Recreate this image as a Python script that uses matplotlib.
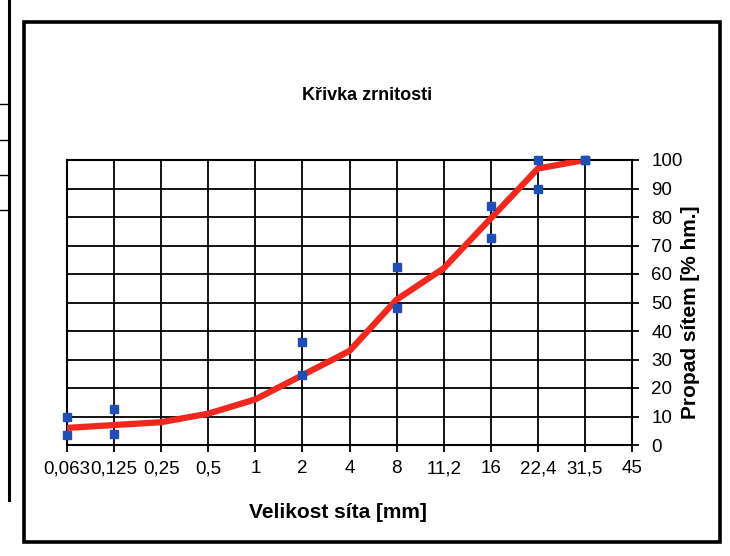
import numpy as np
import matplotlib
matplotlib.use("Agg")
import matplotlib.pyplot as plt
from matplotlib.patches import Rectangle
from matplotlib.lines import Line2D

plt.rcParams['font.family'] = ['Liberation Sans', 'DejaVu Sans']

sieves = ["0,063", "0,125", "0,25", "0,5", "1", "2", "4", "8", "11,2", "16", "22,4", "31,5", "45"]
passing = [6, 7, 8, 11, 16, 24.5, 33, 51, 62, 79.5, 97, 100, np.nan]
lower = [3.5, 4, np.nan, np.nan, np.nan, 24.5, np.nan, 48, np.nan, 72.5, 90, 100, np.nan]
upper = [10, 12.5, np.nan, np.nan, np.nan, 36, np.nan, 62.5, np.nan, 84, 100, 100, np.nan]
yticks = [0, 10, 20, 30, 40, 50, 60, 70, 80, 90, 100]

W, H = 730, 556
fig = plt.figure(figsize=(W / 100, H / 100), dpi=100)

# outer frame and partial table on the left
fig.patches.append(Rectangle((24 / W, 1 - 542 / H), (720 - 24) / W, (542 - 22) / H,
                             transform=fig.transFigure, fill=False, lw=2.6, ec='black'))
fig.lines.append(Line2D([9 / W, 9 / W], [1 - 500 / H, 1.0], transform=fig.transFigure, lw=2.2, color='black'))
for yy in [104, 140, 175, 210]:
    fig.lines.append(Line2D([0, 9 / W], [1 - yy / H, 1 - yy / H], transform=fig.transFigure, lw=1.0, color='black'))

L, R, T, B = 67, 632, 160, 445
ax = fig.add_axes([L / W, 1 - B / H, (R - L) / W, (B - T) / H])

x = np.arange(len(sieves))
ax.plot(x, passing, color='#f0281e', lw=4.5, solid_capstyle='round', solid_joinstyle='round', zorder=3)
ax.plot(x, lower, ls='none', marker='s', ms=6, color='#1f4fb4', zorder=4, clip_on=False)
ax.plot(x, upper, ls='none', marker='s', ms=6, color='#1f4fb4', zorder=4, clip_on=False)

ax.set_xlim(0, len(sieves) - 1)
ax.set_ylim(0, 100)
ax.set_xticks(x)
ax.set_xticklabels(sieves, fontsize=13.5)
ax.yaxis.tick_right()
ax.yaxis.set_label_position('right')
ax.set_yticks(yticks)
ax.set_yticklabels([str(v) for v in yticks], fontsize=13.5)
ax.grid(True, color='black', lw=1.3)
ax.set_axisbelow(True)
for s in ax.spines.values():
    s.set_linewidth(1.5)
ax.tick_params(axis='x', length=5, width=1.3, pad=6)
ax.tick_params(axis='y', length=5, width=1.3, pad=9)

ax.set_xlabel("Velikost síta [mm]", fontsize=15, fontweight='bold')
ax.set_ylabel("Propad sítem [% hm.]", fontsize=15, fontweight='bold')
ax.xaxis.set_label_coords((338 - L) / (R - L), -(513 - B) / (B - T), transform=ax.transAxes)
ax.yaxis.set_label_coords((690 - L) / (R - L), (B - 312) / (B - T), transform=ax.transAxes)
ax.xaxis.label.set_va('center')
ax.yaxis.label.set_va('center')

fig.text(367 / W, 1 - 95 / H, "Křivka zrnitosti", fontsize=13, fontweight='bold',
         ha='center', va='center')

fig.savefig("out.png", dpi=100)
